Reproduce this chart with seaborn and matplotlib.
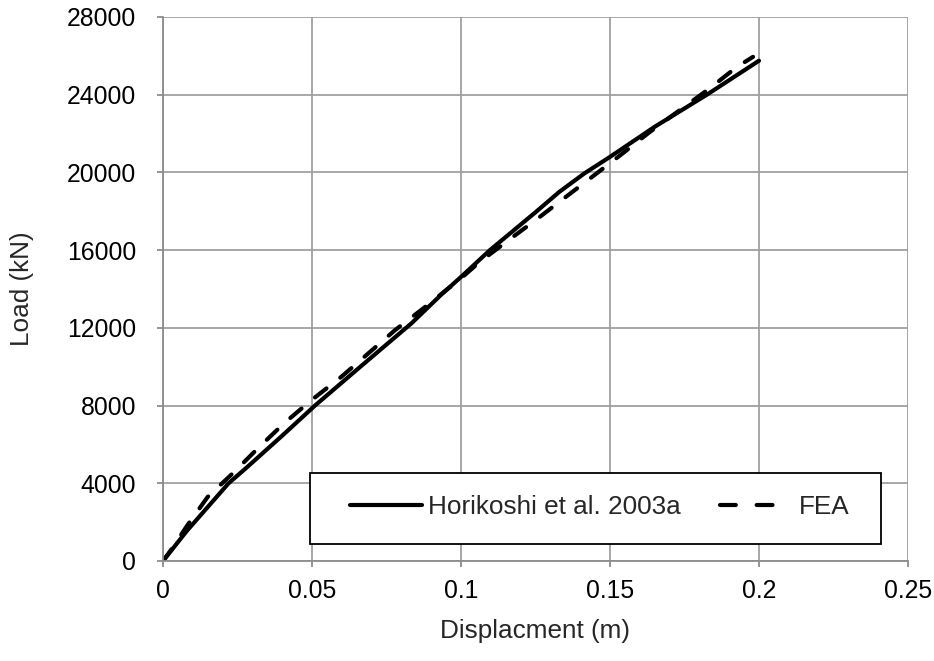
import matplotlib
matplotlib.use("Agg")
import matplotlib.pyplot as plt
from matplotlib.patches import Rectangle
from matplotlib.lines import Line2D
import seaborn as sns
import pandas as pd

# Horikoshi et al. 2003a (solid)
hor_disp = [0, 0.008, 0.022, 0.028, 0.040, 0.051, 0.067, 0.0835, 0.0933, 0.100,
            0.1097, 0.125, 0.133, 0.1414, 0.150, 0.165, 0.1825, 0.200]
hor_load = [0, 1550, 4000, 4800, 6450, 8000, 10100, 12250, 13700, 14620,
            16000, 17950, 19000, 19950, 20800, 22350, 24000, 25750]

# FEA (dashed)
fea_disp = [0, 0.0034, 0.008, 0.015, 0.024, 0.0325, 0.041, 0.050, 0.060, 0.069,
            0.078, 0.088, 0.100, 0.106, 0.116, 0.1255, 0.135, 0.1445, 0.154,
            0.1635, 0.1833, 0.1925, 0.198]
fea_load = [0, 720, 1800, 3300, 4600, 5900, 7140, 8300, 9500, 10700,
            11900, 13080, 14550, 15360, 16520, 17600, 18720, 19830, 20950,
            22100, 24310, 25420, 25950]

series_names = ["Horikoshi et al. 2003a", "FEA"]
x_ticks = [0, 0.05, 0.1, 0.15, 0.2, 0.25]
x_tick_labels = ["0", "0.05", "0.1", "0.15", "0.2", "0.25"]
y_ticks = [0, 4000, 8000, 12000, 16000, 20000, 24000, 28000]

sns.set_style("white")
plt.rcParams["font.family"] = ["Liberation Sans", "DejaVu Sans"]

W, H = 934, 661
fig = plt.figure(figsize=(W / 100, H / 100), dpi=100)
ax = fig.add_axes([163 / W, 1 - 561 / H, (908 - 163) / W, (561 - 17) / H])

df_h = pd.DataFrame({"x": hor_disp, "y": hor_load})
df_f = pd.DataFrame({"x": fea_disp, "y": fea_load})

sns.lineplot(data=df_h, x="x", y="y", ax=ax, color="black", lw=3,
             sort=False, legend=False)
sns.lineplot(data=df_f, x="x", y="y", ax=ax, color="black", lw=3,
             sort=False, legend=False)
ax.lines[0].set_solid_capstyle("round")
ax.lines[0].set_solid_joinstyle("round")
ax.lines[1].set_dashes((3.5, 4.2))
ax.lines[1].set_dash_capstyle("round")
ax.lines[1].set_dash_joinstyle("round")

ax.set_xlim(0, 0.25)
ax.set_ylim(0, 28000)
ax.set_xticks(x_ticks)
ax.set_xticklabels(x_tick_labels)
ax.set_yticks(y_ticks)
ax.set_yticklabels([str(v) for v in y_ticks])

ax.grid(True, color="#a0a0a0", lw=1.3)
ax.set_axisbelow(True)
for s in ["top", "right"]:
    ax.spines[s].set_visible(False)
for s in ["left", "bottom"]:
    ax.spines[s].set_color("#8c8c8c")
    ax.spines[s].set_linewidth(1.3)

ax.tick_params(axis="both", which="major", labelsize=17.8, colors="#8c8c8c",
               labelcolor="black", direction="out", length=4.3, width=1.3,
               left=True, bottom=True)
ax.tick_params(axis="y", pad=15)
ax.tick_params(axis="x", pad=9)

ax.set_xlabel("Displacment (m)", fontsize=18.8, labelpad=11)
ax.set_ylabel("Load (kN)", fontsize=18.8, labelpad=24)

# legend box
box = Rectangle(((310 - 163) / 745, (561 - 544) / 544), 571 / 745, 71 / 544,
                transform=ax.transAxes, facecolor="white", edgecolor="black",
                lw=1.3, zorder=5)
ax.add_patch(box)

h_solid = Line2D([], [], color="black", lw=3, solid_capstyle="round")
h_dash = Line2D([], [], color="black", lw=3, dashes=(3.8, 5.0),
                dash_capstyle="round")
leg = ax.legend(handles=[h_solid, h_dash], labels=series_names,
                loc="center left",
                bbox_to_anchor=((350 - 163) / 745, (561 - 507) / 544),
                ncol=2, fontsize=18.8, frameon=False,
                handlelength=2.75, handletextpad=0.25, borderaxespad=0,
                columnspacing=1.5, borderpad=0)
leg.set_zorder(6)

fig.savefig("out.png", dpi=100)
